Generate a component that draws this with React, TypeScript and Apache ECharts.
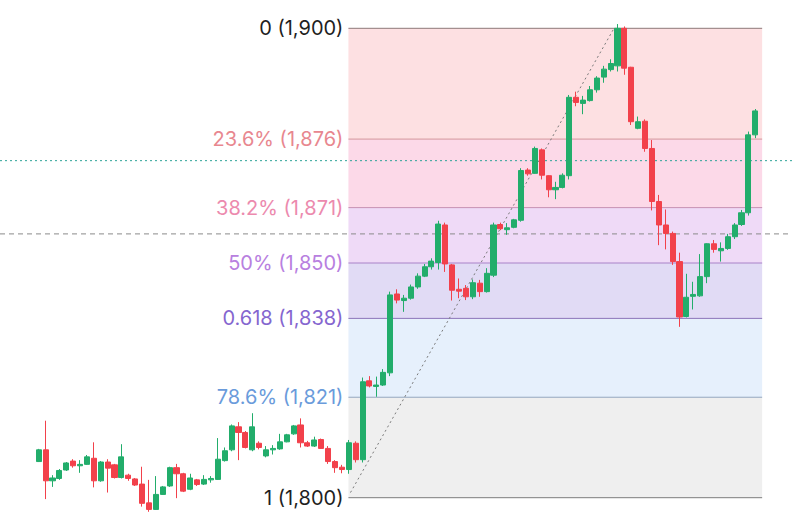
import React, { useEffect, useRef } from 'react';
import * as echarts from 'echarts';

const openPrices = [
  1807.7, 1810.2, 1803.6, 1804.1, 1805.9, 1807.8, 1806.8, 1807.1, 1808.4, 1803.6,
  1807.6, 1807.0, 1804.3, 1804.8, 1804.0, 1802.9, 1798.9, 1797.5, 1800.7, 1802.5,
  1806.4, 1805.1, 1801.8, 1803.8, 1802.9, 1803.8, 1803.9, 1807.9, 1810.2, 1815.1,
  1813.9, 1810.2, 1811.6, 1808.9, 1810.2, 1810.4, 1811.9, 1813.6, 1815.5, 1811.7,
  1811.0, 1812.4, 1810.5, 1807.7, 1806.5, 1806.0, 1811.6, 1808.1, 1824.9, 1823.7,
  1824.0, 1826.6, 1843.4, 1842.0, 1842.5, 1844.9, 1847.2, 1849.2, 1850.1, 1858.1,
  1849.6, 1844.4, 1844.6, 1842.8, 1845.7, 1843.9, 1847.4, 1858.2, 1857.1, 1857.6,
  1859.1, 1869.8, 1869.1, 1874.1, 1868.6, 1865.6, 1866.1, 1868.6, 1885.3, 1884.0,
  1884.6, 1886.9, 1889.6, 1891.2, 1892.0, 1900.0, 1891.7, 1878.7, 1880.2, 1874.4,
  1863.1, 1858.1, 1856.3, 1850.3, 1838.6, 1842.9, 1843.0, 1847.1, 1854.1, 1852.6,
  1853.1, 1855.6, 1858.2, 1860.7, 1877.3,
];
const closePrices = [
  1810.2, 1803.6, 1804.2, 1805.8, 1807.4, 1806.8, 1807.1, 1808.7, 1803.6, 1807.6,
  1806.3, 1804.3, 1808.7, 1804.1, 1802.7, 1798.8, 1797.5, 1800.7, 1802.3, 1806.4,
  1805.1, 1801.4, 1804.2, 1802.8, 1803.9, 1804.1, 1808.2, 1810.0, 1815.3, 1813.9,
  1810.7, 1815.1, 1810.7, 1810.2, 1810.5, 1811.9, 1813.4, 1815.3, 1811.7, 1811.0,
  1812.3, 1810.5, 1807.7, 1806.4, 1806.0, 1811.7, 1808.1, 1824.7, 1823.8, 1824.0,
  1826.7, 1843.2, 1842.1, 1842.5, 1844.9, 1847.2, 1849.2, 1850.4, 1858.3, 1849.8,
  1844.2, 1844.0, 1842.8, 1845.8, 1843.9, 1847.8, 1858.1, 1857.3, 1857.5, 1859.2,
  1869.7, 1869.0, 1874.4, 1868.7, 1865.6, 1866.1, 1868.7, 1885.3, 1884.2, 1884.7,
  1886.9, 1889.4, 1891.3, 1892.5, 1900.0, 1891.5, 1880.1, 1880.1, 1874.4, 1863.1,
  1858.1, 1856.3, 1850.3, 1838.5, 1842.7, 1843.3, 1847.1, 1854.1, 1852.9, 1853.1,
  1855.6, 1858.1, 1860.7, 1877.3, 1882.4,
];
const lowPrices = [
  1807.6, 1799.7, 1802.3, 1803.8, 1805.7, 1806.4, 1805.3, 1807.0, 1802.2, 1803.4,
  1801.1, 1804.1, 1804.1, 1803.6, 1802.5, 1798.1, 1797.0, 1797.4, 1800.6, 1802.3,
  1799.9, 1801.2, 1801.6, 1802.5, 1802.7, 1803.2, 1803.8, 1807.7, 1809.9, 1808.0,
  1810.5, 1809.9, 1810.3, 1808.6, 1809.2, 1810.2, 1811.8, 1813.4, 1810.7, 1810.8,
  1810.8, 1810.4, 1807.2, 1805.3, 1805.2, 1805.1, 1807.5, 1807.5, 1823.5, 1821.5,
  1823.8, 1825.9, 1841.4, 1839.6, 1842.2, 1844.5, 1847.0, 1848.6, 1848.6, 1848.1,
  1842.0, 1842.5, 1842.1, 1842.3, 1842.8, 1843.7, 1847.0, 1857.0, 1856.0, 1857.4,
  1858.8, 1868.6, 1869.0, 1867.8, 1864.0, 1863.6, 1865.9, 1867.8, 1883.4, 1881.7,
  1884.4, 1886.3, 1888.4, 1890.8, 1890.8, 1890.1, 1879.4, 1878.5, 1873.7, 1861.2,
  1853.8, 1852.9, 1849.6, 1836.4, 1838.4, 1840.1, 1842.8, 1845.7, 1852.2, 1850.3,
  1852.8, 1855.1, 1857.9, 1860.1, 1876.6,
];
const highPrices = [
  1810.4, 1816.4, 1804.8, 1806.1, 1807.6, 1808.2, 1808.0, 1809.1, 1811.8, 1807.8,
  1808.2, 1807.2, 1811.4, 1805.1, 1804.2, 1806.6, 1803.8, 1804.6, 1802.5, 1806.6,
  1807.2, 1805.3, 1805.1, 1804.0, 1804.8, 1804.6, 1812.7, 1810.7, 1815.6, 1816.1,
  1814.2, 1818.0, 1812.0, 1811.0, 1811.2, 1813.6, 1813.6, 1815.5, 1816.9, 1812.1,
  1813.0, 1812.6, 1811.0, 1808.0, 1807.0, 1812.3, 1812.0, 1825.6, 1825.9, 1825.8,
  1827.4, 1843.9, 1844.4, 1843.2, 1845.4, 1847.8, 1849.8, 1851.0, 1859.0, 1858.6,
  1849.8, 1846.7, 1845.3, 1846.5, 1846.4, 1848.9, 1858.6, 1858.6, 1858.5, 1859.4,
  1870.2, 1870.2, 1874.8, 1874.4, 1868.7, 1867.3, 1869.1, 1885.8, 1886.5, 1885.6,
  1887.7, 1889.8, 1892.0, 1893.4, 1900.9, 1900.4, 1891.8, 1881.2, 1880.6, 1876.2,
  1864.5, 1861.4, 1856.7, 1852.2, 1847.7, 1846.0, 1851.9, 1854.2, 1854.9, 1854.4,
  1856.2, 1858.5, 1861.3, 1878.0, 1882.8,
];

const categories = openPrices.map((_, i) => String(i + 1));

const levelPrices = [1900, 1876.4, 1861.8, 1850, 1838.2, 1821.4, 1800];
const levelLabels = [
  '0 (1,900)',
  '23.6% (1,876)',
  '38.2% (1,871)',
  '50% (1,850)',
  '0.618 (1,838)',
  '78.6% (1,821)',
  '1 (1,800)',
];
const levelTextColors = ['#1f1f1f', '#e8878f', '#ec8aae', '#b880df', '#8566cf', '#6a9bdb', '#1f1f1f'];
const levelLineColors = ['#8e7878', '#d3969c', '#c790b2', '#a982c8', '#8b75b9', '#93a6be', '#7d7d7d'];
const bandColors = ['#fde0e2', '#fcd9e8', '#efdaf7', '#e1dbf5', '#e6f0fc', '#efefef'];

const fibStartIndex = 44.95;
const fibEndIndex = 105;
const trendLine = [
  [45.25, 1801.1],
  [83.5, 1900],
];
const refLinePrices = [1871.8, 1856.2];
const refLineColors = ['#2ea398', '#8a8a8a'];

const UP = '#22ad6b';
const DOWN = '#f2414b';

export default function App() {
  const ref = useRef<HTMLDivElement>(null);

  useEffect(() => {
    if (!ref.current) return;
    const chart = echarts.init(ref.current, undefined, { renderer: 'svg' });
    const candleData = openPrices.map((o, i) => [o, closePrices[i], lowPrices[i], highPrices[i]]);

    chart.setOption({
      animation: false,
      backgroundColor: '#ffffff',
      grid: { left: 35.3, right: 33.3, top: 28.3, bottom: 22.3 },
      xAxis: [
        { type: 'category', data: categories, show: false, boundaryGap: true },
        { type: 'value', min: -0.5, max: categories.length - 0.5, show: false },
      ],
      yAxis: [{ type: 'value', min: 1800, max: 1900, show: false, splitLine: { show: false } }],
      series: [
        {
          type: 'custom',
          name: 'fib',
          xAxisIndex: 1,
          yAxisIndex: 0,
          z: 1,
          silent: true,
          data: levelPrices.map((p) => [fibStartIndex, p]),
          encode: { x: 0, y: 1 },
          renderItem: (params: any, api: any) => {
            const i = params.dataIndex;
            const price = api.value(1);
            const left = api.coord([fibStartIndex, price]);
            const right = api.coord([fibEndIndex, price]);
            const children: any[] = [];
            if (i < levelPrices.length - 1) {
              const next = api.coord([fibStartIndex, levelPrices[i + 1]]);
              children.push({
                type: 'rect',
                shape: { x: left[0], y: left[1], width: right[0] - left[0], height: next[1] - left[1] },
                style: { fill: bandColors[i] },
              });
            }
            children.push({
              type: 'line',
              shape: { x1: left[0], y1: left[1], x2: right[0], y2: right[1] },
              style: { stroke: levelLineColors[i], lineWidth: 1 },
            });
            children.push({
              type: 'text',
              style: {
                text: levelLabels[i],
                x: left[0] - 5,
                y: left[1],
                align: 'right',
                verticalAlign: 'middle',
                fill: levelTextColors[i],
                font: '20px Inter',
              },
            });
            return { type: 'group', children };
          },
        },
        {
          type: 'custom',
          name: 'ref',
          xAxisIndex: 1,
          yAxisIndex: 0,
          z: 2,
          silent: true,
          data: refLinePrices.map((p) => [0, p]),
          encode: { x: 0, y: 1 },
          renderItem: (params: any, api: any) => {
            const i = params.dataIndex;
            const pt = api.coord([0, api.value(1)]);
            return {
              type: 'line',
              shape: { x1: 0, y1: pt[1], x2: api.getWidth(), y2: pt[1] },
              style: {
                stroke: refLineColors[i],
                lineWidth: 1,
                lineDash: i === 0 ? [2, 3] : [5, 4],
              },
            };
          },
        },
        {
          type: 'line',
          name: 'trend',
          xAxisIndex: 1,
          yAxisIndex: 0,
          z: 2,
          silent: true,
          symbol: 'none',
          data: trendLine,
          lineStyle: { color: '#7a7a7a', width: 1, type: [2, 3] },
        },
        {
          type: 'candlestick',
          name: 'price',
          xAxisIndex: 0,
          yAxisIndex: 0,
          z: 3,
          clip: false,
          barWidth: 5.6,
          data: candleData,
          itemStyle: {
            color: UP,
            color0: DOWN,
            borderColor: UP,
            borderColor0: DOWN,
            borderWidth: 1,
          },
        },
      ],
    });
    return () => chart.dispose();
  }, []);

  return (
    <div
      ref={ref}
      style={{ position: 'fixed', left: 0, top: 0, width: 792, height: 520 }}
    />
  );
}
